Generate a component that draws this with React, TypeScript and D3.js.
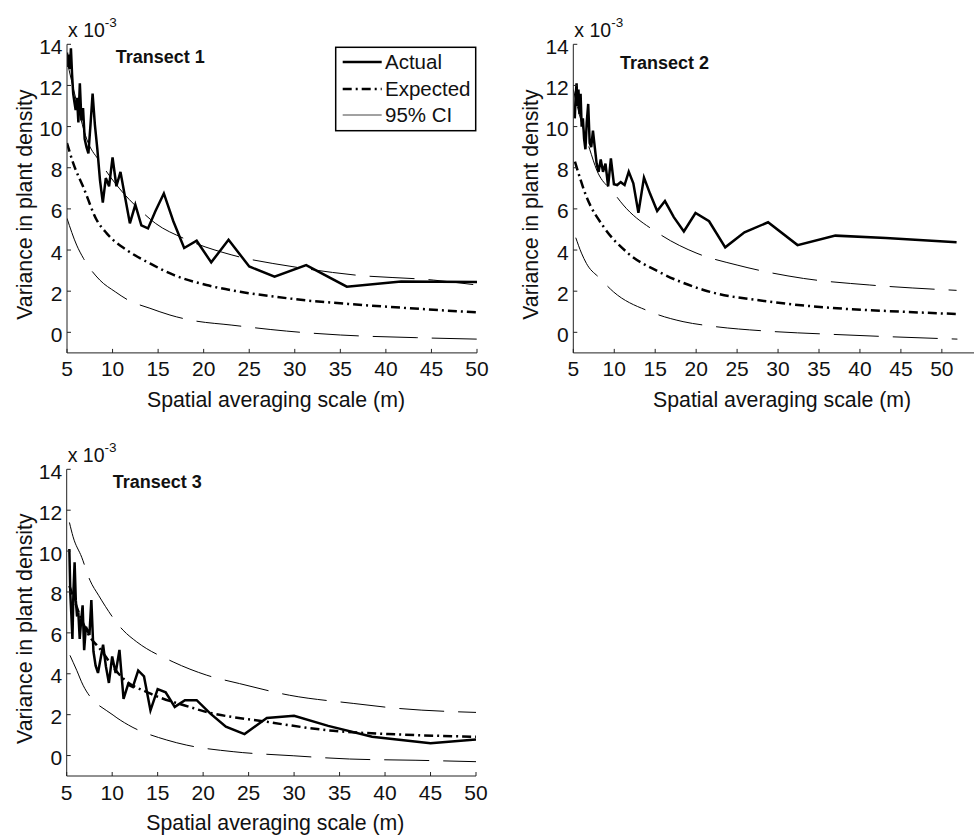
import React from 'react';
import * as d3 from 'd3';

type Pt = [number, number];

const xTicks = [5, 10, 15, 20, 25, 30, 35, 40, 45, 50];
const yTicks = [0, 2, 4, 6, 8, 10, 12, 14];
const legendItems = ['Actual', 'Expected', '95% CI'];

// Transect 1 (values in units of 10^-3)
const t1Actual: Pt[] = [
  [5.0, 13.6], [5.1, 12.9], [5.21, 13.5], [5.32, 12.8], [5.43, 13.8], [5.56, 12.5], [5.68, 11.6],
  [5.81, 11.2], [5.95, 10.8], [6.1, 11.4], [6.25, 10.2], [6.41, 12.1], [6.58, 10.3], [6.76, 10.9],
  [6.94, 9.4], [7.14, 9.0], [7.35, 8.7], [7.58, 10.1], [7.81, 11.6], [8.06, 10.1], [8.33, 8.9],
  [8.62, 7.4], [8.93, 6.3], [9.26, 7.5], [9.62, 7.1], [10.0, 8.5], [10.42, 7.1], [10.87, 7.8],
  [11.36, 6.6], [11.9, 5.3], [12.5, 6.2], [13.16, 5.2], [13.89, 5.05], [14.71, 5.9], [15.63, 6.75],
  [16.67, 5.4], [17.86, 4.1], [19.23, 4.45], [20.83, 3.4], [22.73, 4.5], [25.0, 3.2], [27.78, 2.7],
  [31.25, 3.27], [35.71, 2.22], [41.67, 2.47], [50.0, 2.45]
];
const t1Expected: Pt[] = [
  [5, 9.2], [5.7, 8.2], [6.8, 7.05], [8.26, 5.46], [9.36, 4.81], [11.55, 4.0], [14.1, 3.35],
  [16.7, 2.79], [20.3, 2.3], [24, 1.97], [27.7, 1.74], [31.3, 1.55], [34.2, 1.44], [41.6, 1.2], [50, 0.97]
];
const t1Upper: Pt[] = [
  [5, 13.2], [6, 11.3], [7.2, 9.35], [8.6, 8.3], [11.2, 6.76], [13.0, 5.95], [14.7, 5.3], [17.8, 4.57],
  [23.1, 3.76], [29.8, 3.19], [36.5, 2.79], [45.2, 2.54], [50, 2.3]
];
const t1Lower: Pt[] = [
  [5, 5.54], [6.06, 4.24], [6.8, 3.6], [8.6, 2.54], [10.3, 1.97], [11.7, 1.57], [14.1, 1.17], [16.3, 0.84],
  [18.5, 0.6], [23.1, 0.35], [29.1, 0.06], [35, -0.13], [43.4, -0.26], [50, -0.33]
];

// Transect 2
const t2Actual: Pt[] = [
  [5.18, 10.4], [5.29, 11.5], [5.4, 12.1], [5.51, 11.0], [5.63, 11.8], [5.76, 10.6], [5.89, 11.6],
  [6.02, 10.0], [6.17, 10.4], [6.32, 9.4], [6.48, 8.9], [6.64, 10.2], [6.82, 11.1], [7.0, 9.2],
  [7.19, 9.0], [7.4, 9.8], [7.62, 9.0], [7.85, 8.2], [8.09, 7.8], [8.35, 8.4], [8.63, 7.8], [8.93, 8.2],
  [9.25, 7.1], [9.59, 8.46], [9.96, 7.2], [10.36, 7.16], [10.79, 7.3], [11.26, 7.16], [11.77, 7.81],
  [12.33, 7.24], [12.95, 5.81], [13.63, 7.52], [14.39, 6.72], [15.24, 5.9], [16.19, 6.38], [17.27, 5.6],
  [18.5, 4.9], [19.92, 5.8], [21.58, 5.4], [23.55, 4.13], [25.9, 4.86], [28.78, 5.35], [32.38, 4.24],
  [37.0, 4.7], [43.17, 4.58], [51.8, 4.38]
];
const t2Expected: Pt[] = [
  [5.2, 8.3], [6.6, 6.6], [8.7, 5.13], [11.7, 3.84], [15.4, 2.95], [20.9, 2.06], [29, 1.49],
  [37.2, 1.17], [45.3, 1.0], [51.8, 0.89]
];
const t2Upper: Pt[] = [
  [5, 11.8], [6, 10.2], [7, 8.9], [7.86, 7.89], [9.9, 6.8], [11.1, 6.19], [15.4, 4.81], [20.1, 3.84],
  [25, 3.27], [33.1, 2.62], [41.2, 2.3], [51.8, 2.04]
];
const t2Lower: Pt[] = [
  [5.3, 4.6], [6.0, 3.85], [6.6, 3.35], [8.26, 2.62], [9.9, 1.97], [14.4, 1.0], [18.4, 0.52], [21.7, 0.31],
  [28.6, 0.06], [36.7, -0.1], [51.9, -0.33]
];

// Transect 3
const t3Actual: Pt[] = [
  [5.29, 10.1], [5.4, 7.9], [5.51, 6.9], [5.63, 5.7], [5.74, 8.0], [5.87, 9.45], [6.0, 7.6], [6.14, 6.8],
  [6.28, 7.0], [6.43, 5.7], [6.59, 6.6], [6.75, 7.35], [6.92, 5.15], [7.11, 6.3], [7.3, 6.1], [7.5, 5.9],
  [7.71, 7.6], [7.94, 5.1], [8.18, 4.4], [8.44, 4.04], [8.71, 4.7], [9.0, 5.42], [9.31, 4.36],
  [9.64, 3.55], [10.0, 4.85], [10.38, 4.04], [10.8, 5.17], [11.25, 2.77], [11.74, 3.47], [12.27, 3.35],
  [12.86, 4.16], [13.5, 3.87], [14.21, 2.21], [15.0, 3.25], [15.88, 3.09], [16.88, 2.38], [18.0, 2.71],
  [19.29, 2.71], [20.77, 2.06], [22.5, 1.41], [24.55, 1.05], [27.0, 1.84], [30.0, 1.95], [33.75, 1.45],
  [38.57, 0.92], [45.0, 0.6], [50.0, 0.78]
];
const t3Expected: Pt[] = [
  [5.3, 8.3], [7.56, 5.8], [8.5, 5.3], [11.2, 3.77], [14.15, 3.04], [18.5, 2.38], [19.65, 2.22],
  [27, 1.65], [34.3, 1.21], [41.6, 1.03], [50, 0.92]
];
const t3Upper: Pt[] = [
  [5.3, 11.4], [5.7, 10.7], [6.65, 9.7], [7.56, 8.57], [8.5, 7.84], [11.2, 6.13], [12.7, 5.56],
  [16.7, 4.58], [20.4, 3.93], [24, 3.52], [29.5, 2.95], [36.5, 2.55], [41.6, 2.3], [50, 2.11]
];
const t3Lower: Pt[] = [
  [5.36, 4.9], [6.1, 4.17], [6.8, 3.44], [10.1, 1.98], [11.8, 1.49], [16, 0.76], [18.2, 0.51],
  [23.3, 0.19], [29.9, -0.01], [36.1, -0.17], [43.4, -0.23], [50, -0.3]
];

const FONT = '"Liberation Sans", Arial, Helvetica, sans-serif';
const DASH_DOT = '9 4 2 4';
const DASH = '45 14';

function Panel(props: any) {
  const { id, box, xMax, actual, expected, upper, lower, title, titleX, titleY, legend } = props;
  const x = d3.scaleLinear().domain([5, xMax]).range([box.left, box.right]);
  const y = d3.scaleLinear().domain([-1, 14]).range([box.bottom, box.top]);
  const line = d3.line<Pt>().x(d => x(d[0])).y(d => y(d[1]));
  const smooth = d3.line<Pt>().x(d => x(d[0])).y(d => y(d[1])).curve(d3.curveMonotoneX);
  const cx = (box.left + box.right) / 2 + 4;
  const cy = (box.top + box.bottom) / 2 + 6;

  return (
    <g>
      <defs>
        <clipPath id={`clip${id}`}>
          <rect x={box.left} y={box.top - 2} width={box.right - box.left} height={box.bottom - box.top + 2} />
        </clipPath>
      </defs>
      <g clipPath={`url(#clip${id})`} fill="none" stroke="#000">
        <path d={smooth(upper) || ''} strokeWidth={1} strokeDasharray={DASH} />
        <path d={smooth(lower) || ''} strokeWidth={1} strokeDasharray={DASH} />
        <path d={smooth(expected) || ''} strokeWidth={2.5} strokeDasharray={DASH_DOT} />
        <path d={line(actual) || ''} strokeWidth={2.5} strokeLinejoin="miter" />
      </g>

      {/* axes */}
      <g stroke="#222" strokeWidth={1}>
        <line x1={box.left} x2={box.left} y1={box.top} y2={box.bottom} />
        <line x1={box.left} x2={box.right} y1={box.bottom} y2={box.bottom} />
        {xTicks.map(t => (
          <line key={'xt' + t} x1={x(t)} x2={x(t)} y1={box.bottom} y2={box.bottom - 4} />
        ))}
        {yTicks.map(t => (
          <line key={'yt' + t} x1={box.left} x2={box.left + 4} y1={y(t)} y2={y(t)} />
        ))}
      </g>
      <g fontFamily={FONT} fontSize={21} fill="#111">
        {xTicks.map(t => (
          <text key={'xl' + t} x={x(t)} y={box.bottom + 23.5} textAnchor="middle">{t}</text>
        ))}
        {yTicks.map(t => (
          <text key={'yl' + t} x={box.left - 4.5} y={y(t) + 9.5} textAnchor="end">{t}</text>
        ))}
      </g>
      <text x={box.left + 1} y={box.top - 7} fontFamily={FONT} fontSize={19.5} fill="#111">
        x 10<tspan fontSize={13.5} dy={-10.5}>-3</tspan>
      </text>
      <text x={cx} y={box.bottom + 54} textAnchor="middle" fontFamily={FONT} fontSize={21.3} fill="#111">
        Spatial averaging scale (m)
      </text>
      <text
        transform={`translate(${box.left - 35},${cy}) rotate(-90)`}
        textAnchor="middle"
        fontFamily={FONT}
        fontSize={21.3}
        fill="#111"
      >
        Variance in plant density
      </text>
      <text x={titleX} y={titleY} fontFamily={FONT} fontSize={18} fontWeight="bold" fill="#111">
        {title}
      </text>
      {legend && (
        <g>
          <rect x={335.7} y={47.3} width={140} height={83.4} fill="#fff" stroke="#000" strokeWidth={1.5} />
          {legendItems.map((name, i) => {
            const ly = [62, 89, 115][i];
            return (
              <g key={name}>
                <line
                  x1={342.7}
                  x2={381.7}
                  y1={ly}
                  y2={ly}
                  stroke={i === 2 ? '#444' : '#000'}
                  strokeWidth={i === 2 ? 1 : 2.5}
                  strokeDasharray={i === 1 ? DASH_DOT : undefined}
                />
                <text x={385} y={ly + 7} fontFamily={FONT} fontSize={20.5} fill="#111">{name}</text>
              </g>
            );
          })}
        </g>
      )}
    </g>
  );
}

export default function App() {
  return (
    <svg
      width={974}
      height={835}
      style={{ position: 'absolute', left: 0, top: 0, background: '#fff' }}
    >
      <rect width={974} height={835} fill="#fff" />
      <Panel
        id={1}
        box={{ left: 67, right: 477, top: 44.3, bottom: 352.9 }}
        xMax={50}
        actual={t1Actual}
        expected={t1Expected}
        upper={t1Upper}
        lower={t1Lower}
        title="Transect 1"
        titleX={115.7}
        titleY={63.3}
        legend
      />
      <Panel
        id={2}
        box={{ left: 573.3, right: 982.8, top: 44.3, bottom: 352.9 }}
        xMax={55}
        actual={t2Actual}
        expected={t2Expected}
        upper={t2Upper}
        lower={t2Lower}
        title="Transect 2"
        titleX={620}
        titleY={69.3}
      />
      <Panel
        id={3}
        box={{ left: 66.7, right: 476, top: 469.3, bottom: 776 }}
        xMax={50}
        actual={t3Actual}
        expected={t3Expected}
        upper={t3Upper}
        lower={t3Lower}
        title="Transect 3"
        titleX={112.7}
        titleY={488}
      />
    </svg>
  );
}
